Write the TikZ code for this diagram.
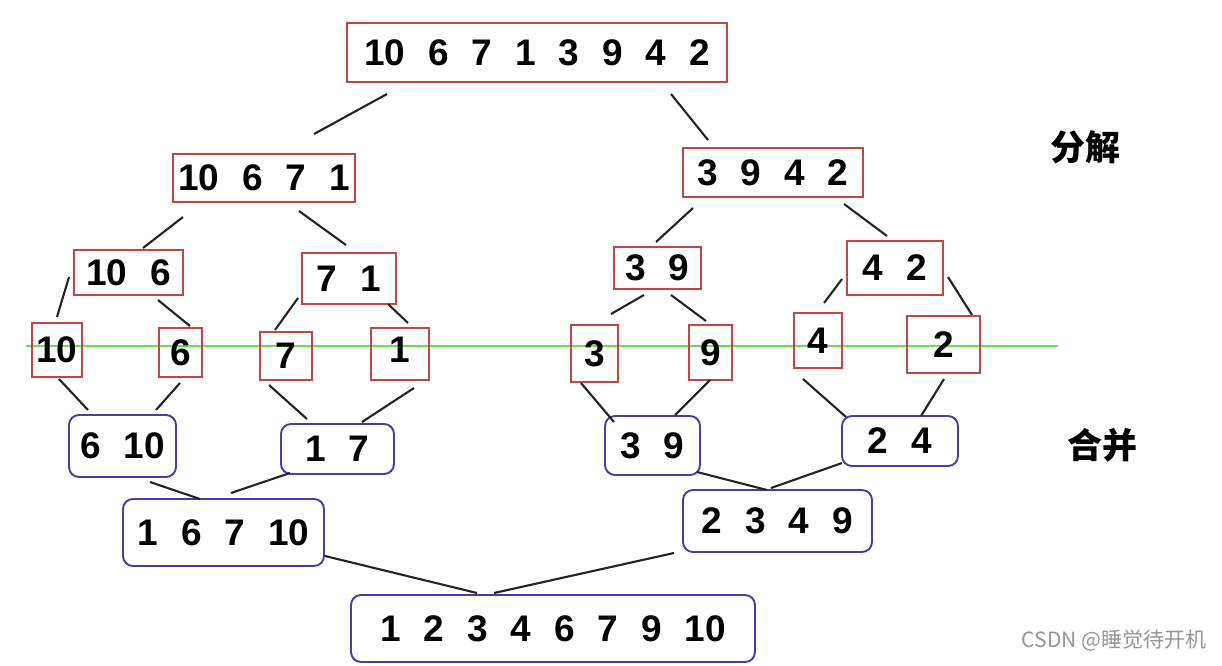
\documentclass[tikz,border=0pt]{standalone}
\usepackage{fontspec}
\newfontfamily\numfont{Liberation Sans}
\newfontfamily\cjk{Noto Sans CJK SC}
\definecolor{redc}{RGB}{195,70,70}
\definecolor{bluec}{RGB}{70,60,170}
\definecolor{greenc}{RGB}{110,220,90}
\definecolor{linec}{RGB}{35,35,35}
\definecolor{wmc}{RGB}{150,150,150}
\newcommand{\numgap}{\hspace{0.62em}}
\tikzset{
  numtxt/.style={font=\numfont\bfseries\fontsize{37}{40}\selectfont, text=black, inner sep=0pt},
  redbox/.style={numtxt, draw=redc, line width=1.9pt},
  bluebox/.style={numtxt, draw=bluec, line width=1.9pt, rounded corners=10pt},
  conn/.style={draw=linec, line width=2.1pt},
  cjklabel/.style={font=\cjk\bfseries\fontsize{35}{40}\selectfont, text=black, inner sep=0pt},
}
\newcommand{\mybox}[7]{\node[#1, minimum width=#5pt, minimum height=#6pt] (#2) at (#3,#4) {#7};}
\begin{document}
\begin{tikzpicture}[x=1pt,y=-1pt]
\useasboundingbox (0,0) rectangle (1222,665);
% green separation line
\coordinate (gl) at (26,346);
\coordinate (gr) at (1058,346);
\draw[greenc, line width=2.2pt] (gl) -- (gr);
% split (red) boxes
\mybox{redbox}{top}{537}{52.5}{380}{59}{10\numgap 6\numgap 7\numgap 1\numgap 3\numgap 9\numgap 4\numgap 2}
\mybox{redbox}{a1}{264}{178}{182}{48}{10\numgap 6\numgap 7\numgap 1}
\mybox{redbox}{a2}{773}{172.5}{180}{49}{3\numgap 9\numgap 4\numgap 2}
\mybox{redbox}{b1}{128.5}{272.5}{109}{45}{10\numgap 6}
\mybox{redbox}{b2}{349}{278.5}{94}{51}{7\numgap 1}
\mybox{redbox}{b3}{657.5}{268}{87}{42}{3\numgap 9}
\mybox{redbox}{b4}{895}{268}{96}{54}{4\numgap 2}
\mybox{redbox}{s10}{57}{350}{50}{54}{10}
\mybox{redbox}{s6}{180.5}{352.5}{43}{49}{6}
\mybox{redbox}{s7}{286}{356}{52}{48}{7}
\mybox{redbox}{s1}{400}{354}{58}{52}{\raisebox{8pt}{1}}
\mybox{redbox}{s3}{594.5}{353.5}{47}{57}{3}
\mybox{redbox}{s9}{710.5}{352.5}{43}{55}{9}
\mybox{redbox}{s4}{818}{340.5}{48}{55}{4}
\mybox{redbox}{s2}{943.5}{344.5}{73}{57}{2}
% merge (blue) boxes
\mybox{bluebox}{m1}{122.5}{446}{107}{62}{6\numgap 10}
\mybox{bluebox}{m2}{337.5}{449}{113}{50}{1\numgap 7}
\mybox{bluebox}{m3}{652.5}{445.5}{95}{59}{3\numgap 9}
\mybox{bluebox}{m4}{900}{441}{116}{50}{2\numgap 4}
\mybox{bluebox}{n1}{223.5}{532.5}{201}{67}{1\numgap 6\numgap 7\numgap 10}
\mybox{bluebox}{n2}{777.5}{521}{189}{62}{2\numgap 3\numgap 4\numgap 9}
\mybox{bluebox}{fin}{553}{628.5}{404}{67}{1\numgap 2\numgap 3\numgap 4\numgap 6\numgap 7\numgap 9\numgap 10}
% labels
\node[cjklabel] (lab1) at (1085,147) {分解};
\node[cjklabel] (lab2) at (1102,445) {合并};
\node[font=\cjk\fontsize{21}{24}\selectfont, text=wmc, inner sep=0pt] (wm) at (1114,640) {CSDN @睡觉待开机};
% connector end points
\foreach \n/\x/\y in {
 p1a/387/94, p1b/314/134,
 p2a/671/94, p2b/708/140,
 p3a/183/217, p3b/143/248,
 p4a/299/211, p4b/346/245,
 p5a/693/208, p5b/656/242,
 p6a/844/204, p6b/887/236,
 p7a/69/277, p7b/57/317,
 p8a/158/300, p8b/190/326,
 p9a/298/298, p9b/275/330,
 p10a/388/304, p10b/408/323,
 p11a/644/295, p11b/611/314,
 p12a/671/295, p12b/706/321,
 p13a/842/279, p13b/824/303,
 p14a/948/277, p14b/972/315,
 p15a/59/379, p15b/88/410,
 p16a/180/383, p16b/156/410,
 p17a/269/385, p17b/307/419,
 p18a/414/388, p18b/362/422,
 p19a/581/383, p19b/614/422,
 p20a/710/380, p20b/675/415,
 p21a/803/379, p21b/846/417,
 p22a/944/379, p22b/921/416,
 p23a/150/482, p23b/200/499,
 p24a/290/473, p24b/231/493,
 p25a/697/472, p25b/767/490,
 p26a/842/463, p26b/771/488,
 p27a/325/556, p27b/477/593,
 p28a/674/553, p28b/494/593}
 {\coordinate (\n) at (\x,\y);}
\foreach \i in {1,...,28}{\draw[conn] (p\i a) -- (p\i b);}
\end{tikzpicture}
\end{document}
